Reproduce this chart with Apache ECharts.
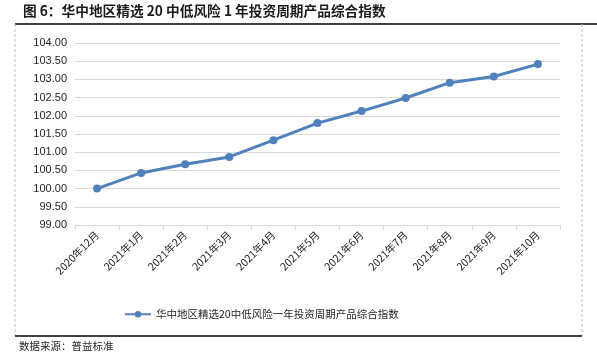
<!DOCTYPE html>
<html>
<head>
<meta charset="utf-8">
<script src="https://cdn.jsdelivr.net/npm/echarts@6/dist/echarts.min.js"></script>
<style>
html,body{margin:0;padding:0;background:#fff;}
#c{width:597px;height:359px;}
</style>
</head>
<body>
<div id="c"></div>
<script>
const categories = ['2020年12月','2021年1月','2021年2月','2021年3月','2021年4月','2021年5月','2021年6月','2021年7月','2021年8月','2021年9月','2021年10月'];
const seriesName = '华中地区精选20中低风险一年投资周期产品综合指数';
const values = [100.00, 100.43, 100.67, 100.87, 101.33, 101.80, 102.13, 102.49, 102.91, 103.08, 103.42];
const titleText = '图 6：华中地区精选 20 中低风险 1 年投资周期产品综合指数';
const sourceText = '数据来源：普益标准';

const chart = echarts.init(document.getElementById('c'), null, {renderer:'canvas'});
const font = '"Noto Sans CJK SC", "Liberation Sans", sans-serif';
chart.setOption({
  animation: false,
  textStyle: {fontFamily: font},
  grid: {left: 75, right: 37, top: 43, bottom: 134, containLabel: false},
  xAxis: {
    type: 'category',
    data: categories,
    boundaryGap: true,
    axisLine: {lineStyle: {color: '#d9d9d9', width: 1}},
    axisTick: {show: true, length: 5, lineStyle: {color: '#d9d9d9'}},
    axisLabel: {rotate: 45, color: '#262626', fontSize: 10.5, margin: 8, interval: 0, fontFamily: font}
  },
  yAxis: {
    type: 'value',
    min: 99, max: 104, interval: 0.5,
    axisLine: {show: false},
    axisTick: {show: false},
    splitLine: {lineStyle: {color: '#d9d9d9', width: 1}},
    axisLabel: {color: '#262626', fontSize: 11, margin: 8, fontFamily: '"Liberation Sans", sans-serif',
      formatter: v => v.toFixed(2)}
  },
  legend: {
    data: [seriesName],
    left: 119, top: 304,
    itemWidth: 26, itemHeight: 8, itemGap: 4,
    textStyle: {fontSize: 10.5, color: '#262626', fontFamily: font}
  },
  series: [{
    name: seriesName,
    type: 'line',
    data: values,
    symbol: 'circle',
    symbolSize: 8,
    lineStyle: {color: '#4f81bd', width: 3},
    itemStyle: {color: '#4f81bd'}
  }],
  graphic: [
    {type: 'text', left: 23, top: 4, style: {text: titleText, fontSize: 13.7, fontWeight: 'bold', fill: '#1a1a1a', fontFamily: font}},
    {type: 'line', shape: {x1: 15, y1: 24, x2: 597, y2: 24}, style: {stroke: '#000', lineWidth: 1.5}},
    {type: 'line', shape: {x1: 15, y1: 24, x2: 15, y2: 336}, style: {stroke: '#bfbfbf', lineWidth: 1, lineDash: [3, 2]}},
    {type: 'line', shape: {x1: 582, y1: 24, x2: 582, y2: 336}, style: {stroke: '#bfbfbf', lineWidth: 1, lineDash: [3, 2]}},
    {type: 'line', shape: {x1: 15, y1: 336, x2: 582, y2: 336}, style: {stroke: '#000', lineWidth: 1.5}},
    {type: 'text', left: 19, top: 341, style: {text: sourceText, fontSize: 10.5, fill: '#262626', fontFamily: font}}
  ]
});
</script>
</body>
</html>
